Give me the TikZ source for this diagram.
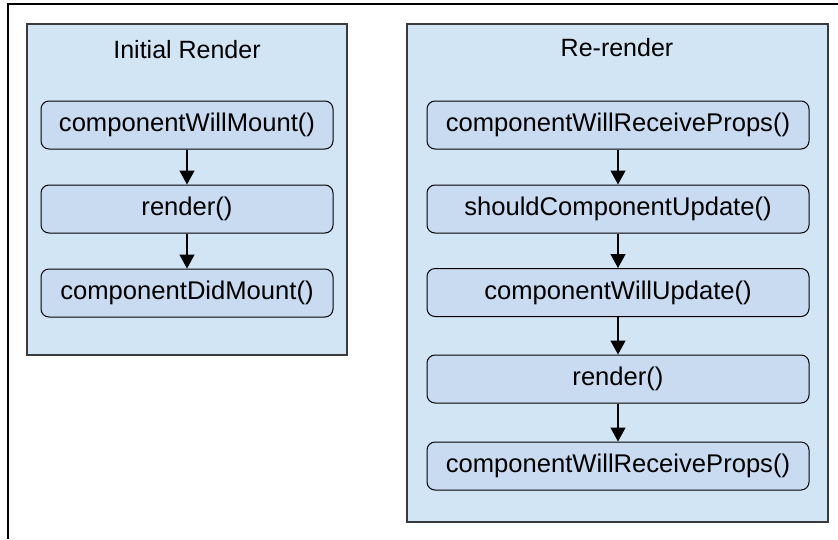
\documentclass[tikz,border=0pt]{standalone}
\usepackage{fontspec}
\setmainfont{Liberation Sans}
\usetikzlibrary{arrows.meta}
\definecolor{panelblue}{HTML}{D2E5F5}
\definecolor{methodblue}{HTML}{C8DBF0}
\definecolor{edgegrey}{HTML}{3A3A3A}
\begin{document}
\begin{tikzpicture}[x=1pt,y=-1pt,font=\fontsize{25}{30}\selectfont]
   \useasboundingbox (0,0) rectangle (838,539);
   \draw[line width=2.4pt] (8,539) -- (8,4) -- (838,4);
   \begin{scope}[every node/.style={draw=edgegrey,line width=1.3pt,fill=panelblue,inner sep=0pt}]
    \node[minimum width=320pt,minimum height=331pt] (initial) at (187,189.5) {};
    \node[minimum width=421pt,minimum height=498pt] (rerender) at (617.5,273) {};
   \end{scope}
   \node (tinitial) at (187,50) {Initial Render};
   \node (trerender) at (617,48) {Re-render};
   \begin{scope}[every node/.style={draw=black,line width=1pt,fill=methodblue,rounded corners=8pt,minimum height=48pt,inner sep=0pt,font=\fontsize{25.6}{30}\selectfont}]
    \node[minimum width=292pt] (l1) at (187,125) {componentWillMount()};
    \node[minimum width=292pt] (l2) at (187,209) {render()};
    \node[minimum width=292pt] (l3) at (187,293) {componentDidMount()};
    \node[minimum width=382pt] (r1) at (618,125) {componentWillReceiveProps()};
    \node[minimum width=382pt] (r2) at (618,209) {shouldComponentUpdate()};
    \node[minimum width=382pt] (r3) at (618,292.5) {componentWillUpdate()};
    \node[minimum width=382pt] (r4) at (618,379) {render()};
    \node[minimum width=382pt] (r5) at (618,466) {componentWillReceiveProps()};
   \end{scope}
   \begin{scope}[every edge/.style={draw=black,line width=1.3pt,-{Triangle[length=14pt,width=15pt]}}]
    \draw  (l1) edge (l2);
    \draw  (l2) edge (l3);
    \draw  (r1) edge (r2);
    \draw  (r2) edge (r3);
    \draw  (r3) edge (r4);
    \draw  (r4) edge (r5);
   \end{scope}
\end{tikzpicture}
\end{document}
